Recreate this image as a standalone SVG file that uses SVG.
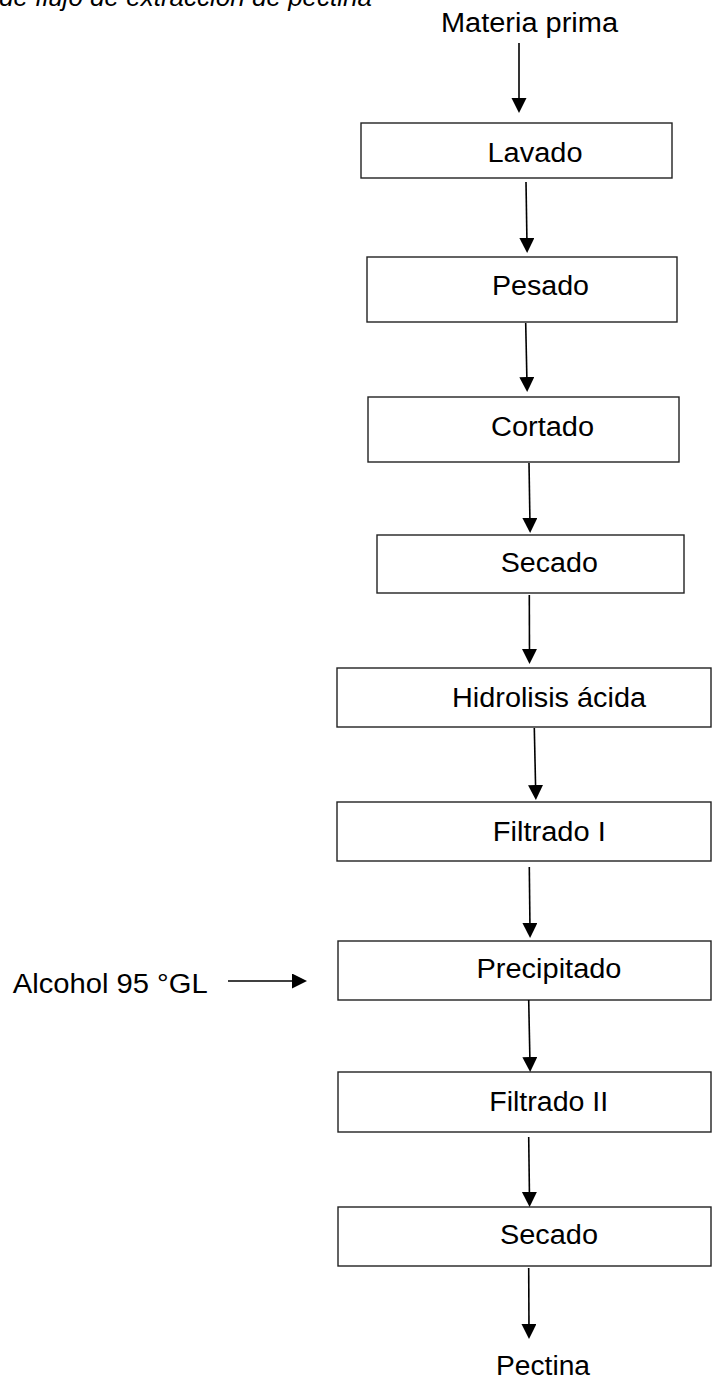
<svg xmlns="http://www.w3.org/2000/svg" width="712" height="1381" viewBox="0 0 712 1381">
<style>
.box{fill:#fff;stroke:#222;stroke-width:1.4}
.lbl{font-family:"Liberation Sans",Arial,sans-serif;font-size:27px;fill:#000;text-anchor:middle}
.free{font-family:"Liberation Sans",Arial,sans-serif;font-size:27px;fill:#000}
.title{font-family:"Liberation Sans",Arial,sans-serif;font-size:25px;font-style:italic;fill:#000}
.conn line{stroke:#000;stroke-width:1.6;marker-end:url(#ah)}
</style>
<defs>
<marker id="ah" markerUnits="userSpaceOnUse" markerWidth="16" markerHeight="16" refX="7" refY="7.5" orient="auto">
<path d="M0,0 L15,7.5 L0,15 Z" fill="#000"/>
</marker>
</defs>
<rect width="712" height="1381" fill="#fff"/>
<text class="title" x="-1" y="6" textLength="373" lengthAdjust="spacingAndGlyphs">de flujo de extracción de pectina</text>
<g id="materia-prima"><text class="lbl" x="529.5" y="32" textLength="177" lengthAdjust="spacingAndGlyphs">Materia prima</text></g>
<g id="lavado"><rect class="box" x="361" y="123" width="311" height="55"/><text class="lbl" x="535" y="162" textLength="95" lengthAdjust="spacingAndGlyphs">Lavado</text></g>
<g id="pesado"><rect class="box" x="367" y="257" width="310" height="65"/><text class="lbl" x="540.5" y="295" textLength="97" lengthAdjust="spacingAndGlyphs">Pesado</text></g>
<g id="cortado"><rect class="box" x="368" y="397" width="311" height="65"/><text class="lbl" x="542.5" y="436" textLength="103" lengthAdjust="spacingAndGlyphs">Cortado</text></g>
<g id="secado1"><rect class="box" x="377" y="535" width="307" height="58"/><text class="lbl" x="549.3" y="572" textLength="97" lengthAdjust="spacingAndGlyphs">Secado</text></g>
<g id="hidrolisis"><rect class="box" x="337" y="668" width="374" height="59"/><text class="lbl" x="549" y="707" textLength="194" lengthAdjust="spacingAndGlyphs">Hidrolisis ácida</text></g>
<g id="filtrado1"><rect class="box" x="337" y="802" width="374" height="59"/><text class="lbl" x="549.3" y="841" textLength="113" lengthAdjust="spacingAndGlyphs">Filtrado I</text></g>
<g id="alcohol"><text class="free" x="12.7" y="993" textLength="195" lengthAdjust="spacingAndGlyphs">Alcohol 95 °GL</text></g>
<g id="precipitado"><rect class="box" x="338" y="941" width="373" height="59"/><text class="lbl" x="549" y="978" textLength="145" lengthAdjust="spacingAndGlyphs">Precipitado</text></g>
<g id="filtrado2"><rect class="box" x="338" y="1072" width="373" height="60"/><text class="lbl" x="548.7" y="1111" textLength="119" lengthAdjust="spacingAndGlyphs">Filtrado II</text></g>
<g id="secado2"><rect class="box" x="338" y="1207" width="373" height="59"/><text class="lbl" x="549" y="1244" textLength="98" lengthAdjust="spacingAndGlyphs">Secado</text></g>
<g id="pectina"><text class="lbl" x="543" y="1375" textLength="94" lengthAdjust="spacingAndGlyphs">Pectina</text></g>
<g id="connectors" class="conn">
<line x1="519" y1="43" x2="519" y2="105"/>
<line x1="526" y1="182" x2="527" y2="245"/>
<line x1="525.7" y1="323" x2="527" y2="384"/>
<line x1="529" y1="463" x2="530" y2="525"/>
<line x1="529.3" y1="595" x2="529.5" y2="656"/>
<line x1="534.3" y1="728" x2="535.7" y2="792"/>
<line x1="529.3" y1="867" x2="530" y2="930"/>
<line x1="528.7" y1="1000" x2="530" y2="1064"/>
<line x1="528.7" y1="1137" x2="529.5" y2="1199"/>
<line x1="528.7" y1="1268" x2="529" y2="1331"/>
<line x1="228" y1="981" x2="299" y2="981"/>
</g>
</svg>
